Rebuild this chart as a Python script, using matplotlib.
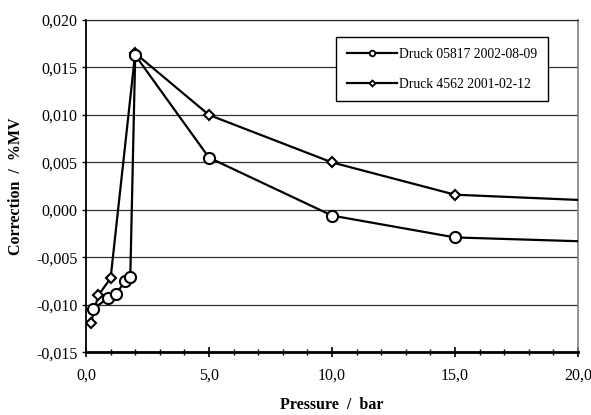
import matplotlib
matplotlib.use('Agg')
import matplotlib.pyplot as plt
from matplotlib.lines import Line2D
from matplotlib.ticker import MultipleLocator, FuncFormatter

plt.rcParams['font.family'] = ['Liberation Serif', 'DejaVu Serif']

# Druck 05817 2002-08-09 (circles)
p_05817 = [0.3, 0.9, 1.2, 1.6, 1.8, 2.0, 5.0, 10.0, 15.0, 25.0]
c_05817 = [-0.0104, -0.0093, -0.0089, -0.0075, -0.0071, 0.0163, 0.0055, -0.0006, -0.0029, -0.0037]

# Druck 4562 2001-02-12 (diamonds)
p_4562 = [0.2, 0.5, 1.0, 2.0, 5.0, 10.0, 15.0, 25.0]
c_4562 = [-0.0119, -0.0090, -0.0072, 0.0165, 0.0100, 0.0050, 0.0016, 0.0005]

labels = ['Druck 05817 2002-08-09', 'Druck 4562 2001-02-12']

fig = plt.figure(figsize=(5.91, 4.15), dpi=100)
ax = fig.add_axes([86 / 591, 1 - 352.3 / 415, 492 / 591, 332.3 / 415])

ax.plot(p_4562, c_4562, color='black', lw=1.6, marker='D', ms=5.2,
        mfc='white', mec='black', mew=1.5, zorder=3)
ax.plot(p_05817, c_05817, color='black', lw=1.6, marker='o', ms=8,
        mfc='white', mec='black', mew=1.5, zorder=4)

ax.set_xlim(0, 20)
ax.set_ylim(-0.015, 0.020)
ax.xaxis.set_major_locator(MultipleLocator(5))
ax.xaxis.set_minor_locator(MultipleLocator(1))
ax.yaxis.set_major_locator(MultipleLocator(0.005))
ax.xaxis.set_major_formatter(FuncFormatter(lambda v, p: f'{v:.1f}'.replace('.', ',')))
ax.yaxis.set_major_formatter(FuncFormatter(lambda v, p: f'{v:.3f}'.replace('.', ',').replace('-0,000', '0,000')))

ax.tick_params(axis='x', which='major', direction='inout', length=6.5, width=1.2,
               labelsize=11.5, pad=8)
ax.tick_params(axis='x', which='minor', direction='inout', length=4.8, width=1)
ax.tick_params(axis='y', which='major', direction='out', length=3, width=1,
               labelsize=11.5, pad=3)

ax.grid(axis='y', which='major', color='#303030', lw=0.9)
ax.set_axisbelow(True)

ax.spines['bottom'].set_linewidth(2)
ax.spines['left'].set_linewidth(1.3)
ax.spines['right'].set_color('#808080')
ax.spines['right'].set_linewidth(1.2)
ax.spines['top'].set_color('#303030')
ax.spines['top'].set_linewidth(0.9)

ax.set_xlabel('Pressure  /  bar', fontsize=11.5, fontweight='bold')
ax.set_ylabel('Correction  /  %MV', fontsize=11.5, fontweight='bold')
ax.xaxis.set_label_coords(0.5, -0.135)
ax.yaxis.set_label_coords(-0.126, 0.5)

handles = [
    Line2D([], [], color='black', lw=1.6, marker='o', ms=4, mfc='white', mec='black', mew=1.3),
    Line2D([], [], color='black', lw=1.6, marker='D', ms=3, mfc='white', mec='black', mew=1.3),
]
leg = ax.legend(handles, labels, loc='upper left',
                bbox_to_anchor=(336 / 591, 1 - 37.3 / 415), bbox_transform=fig.transFigure,
                fontsize=9.8, handlelength=3.7, handletextpad=0.15, labelspacing=1.2,
                borderpad=0.8, borderaxespad=0, fancybox=False, framealpha=1,
                edgecolor='black')
leg.get_frame().set_linewidth(1)

fig.savefig('out.png', dpi=100)
